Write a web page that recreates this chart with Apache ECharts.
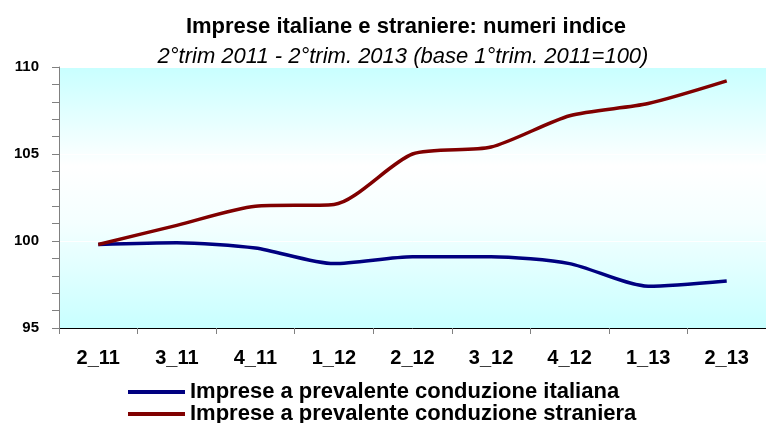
<!DOCTYPE html>
<html>
<head>
<meta charset="utf-8">
<script src="https://cdn.jsdelivr.net/npm/echarts@6/dist/echarts.min.js"></script>
<style>
  html, body { margin: 0; padding: 0; background: #fff; }
  #main { width: 766px; height: 423px; }
</style>
</head>
<body>
<div id="main"></div>
<script>
// dati (numeri indice, base 1 trim 2011 = 100)
const trimestri = ['2_11', '3_11', '4_11', '1_12', '2_12', '3_12', '4_12', '1_13', '2_13'];
const italiane = [99.8, 99.9, 99.6, 98.7, 99.1, 99.1, 98.7, 97.4, 97.7];
const straniere = [99.8, 100.9, 102.0, 102.1, 105.0, 105.4, 107.2, 107.9, 109.2];

const nomeIta = 'Imprese a prevalente conduzione italiana';
const nomeStr = 'Imprese a prevalente conduzione straniera';

const font = 'Liberation Sans, Arial, sans-serif';

// una legenda per riga
function legenda(nome, top) {
	return {
		left: 123,
		top: top,
		itemWidth: 57,
		itemHeight: 4,
		icon: 'rect',
		textStyle: { fontFamily: font, fontSize: 22, fontWeight: 'bold', color: '#000' },
		data: [nome]
	};
}

const chart = echarts.init(document.getElementById('main'));
const option = {
	animation: false,
	title: [{
		text: 'Imprese italiane e straniere: numeri indice',
		left: 401,
		top: 11,
		textAlign: 'center',
		textStyle: { fontFamily: font, fontSize: 22, fontWeight: 'bold', color: '#000' }
	}, {
		text: '2°trim 2011 - 2°trim. 2013 (base 1°trim. 2011=100)',
		left: 398,
		top: 41,
		textAlign: 'center',
		textStyle: { fontFamily: font, fontSize: 22, fontStyle: 'italic', fontWeight: 'normal', color: '#000' }
	}],
	legend: [legenda(nomeIta, 376), legenda(nomeStr, 398)],
	grid: {
		left: 59,
		right: -4,
		top: 67,
		bottom: 95,
		show: true,
		borderWidth: 0,
		backgroundColor: {
			type: 'linear', x: 0, y: 0, x2: 0, y2: 1,
			colorStops: [
				{ offset: 0, color: '#c8ffff' },
				{ offset: 0.38, color: '#ffffff' },
				{ offset: 0.6, color: '#f4ffff' },
				{ offset: 1, color: '#c8ffff' }
			]
		}
	},
	xAxis: {
		type: 'category',
		data: trimestri,
		boundaryGap: true,
		axisLine: { lineStyle: { color: '#000', width: 1 } },
		axisTick: { show: true, length: 6, lineStyle: { color: '#808080' } },
		axisLabel: { margin: 20, fontFamily: font, fontSize: 20, fontWeight: 'bold', color: '#000' }
	},
	yAxis: {
		type: 'value',
		min: 95,
		max: 110,
		interval: 5,
		axisLine: { show: true, lineStyle: { color: '#808080' } },
		axisTick: { show: true, length: 7, lineStyle: { color: '#808080' } },
		minorTick: { show: true, splitNumber: 5, length: 7, lineStyle: { color: '#808080' } },
		splitLine: { show: true, lineStyle: { color: '#ffffff', width: 1 } },
		axisLabel: { margin: 20, fontFamily: font, fontSize: 15, fontWeight: 'bold', color: '#000' }
	},
	series: [{
		name: nomeIta,
		type: 'line',
		data: italiane,
		smooth: 0.25,
		symbol: 'none',
		itemStyle: { color: '#000080' },
		lineStyle: { color: '#000080', width: 3.5 }
	}, {
		name: nomeStr,
		type: 'line',
		data: straniere,
		smooth: 0.25,
		symbol: 'none',
		itemStyle: { color: '#800000' },
		lineStyle: { color: '#800000', width: 3.5 }
	}]
};
chart.setOption(option);
</script>
</body>
</html>
